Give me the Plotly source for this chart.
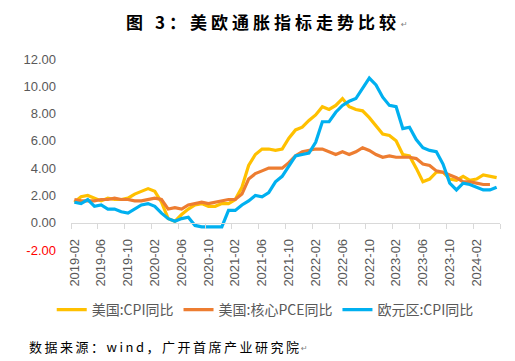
import plotly.graph_objects as go

months = []
for yr in range(2019, 2025):
    for m in range(1, 13):
        s = f"{yr}-{m:02d}"
        if "2019-02" <= s <= "2024-05":
            months.append(s)

us_cpi = [1.5, 1.9, 2.0, 1.8, 1.6, 1.8, 1.7, 1.7, 1.8, 2.1, 2.3,
          2.5, 2.3, 1.5, 0.3, 0.1, 0.6, 1.0, 1.3, 1.4, 1.2, 1.2, 1.4,
          1.4, 1.7, 2.6, 4.2, 5.0, 5.4, 5.4, 5.3, 5.4, 6.2, 6.8, 7.0,
          7.5, 7.9, 8.5, 8.3, 8.6, 9.1, 8.5, 8.3, 8.2, 7.7, 7.1, 6.5,
          6.4, 6.0, 5.0, 4.9, 4.0, 3.0, 3.2, 3.7, 3.7, 3.2, 3.1, 3.4,
          3.1, 3.2, 3.5, 3.4, 3.3]
us_core_pce = [1.7, 1.6, 1.6, 1.6, 1.7, 1.7, 1.8, 1.7, 1.7, 1.6, 1.6,
               1.7, 1.8, 1.7, 1.0, 1.1, 1.0, 1.3, 1.4, 1.5, 1.4, 1.5, 1.6,
               1.7, 1.7, 2.1, 3.2, 3.6, 3.8, 4.0, 4.0, 4.0, 4.4, 4.9, 5.2,
               5.3, 5.4, 5.4, 5.2, 5.0, 5.2, 5.0, 5.2, 5.5, 5.3, 5.0, 4.8,
               4.9, 4.8, 4.8, 4.8, 4.7, 4.3, 4.2, 3.8, 3.7, 3.5, 3.3, 3.0,
               3.0, 2.9, 2.8, 2.8]
ez_cpi = [1.5, 1.4, 1.7, 1.2, 1.3, 1.0, 1.0, 0.8, 0.7, 1.0, 1.3,
          1.4, 1.2, 0.7, 0.3, 0.1, 0.3, 0.4, -0.2, -0.3, -0.3, -0.3, -0.3,
          0.9, 0.9, 1.3, 1.6, 2.0, 1.9, 2.2, 3.0, 3.4, 4.1, 4.9, 5.0,
          5.1, 5.9, 7.4, 7.4, 8.1, 8.6, 8.9, 9.1, 9.9, 10.6, 10.1, 9.2,
          8.6, 8.5, 6.9, 7.0, 6.1, 5.5, 5.3, 5.2, 4.3, 2.9, 2.4, 2.9,
          2.8, 2.6, 2.4, 2.4, 2.6]

series_names = ["美国:CPI同比", "美国:核心PCE同比", "欧元区:CPI同比"]
series_colors = ["#FFC000", "#ED7D31", "#00B0F0"]
y_ticks = [-2, 0, 2, 4, 6, 8, 10, 12]

y_ticktext = [
    f'<span style="color:#FF0000">{v:.2f}</span>' if v < 0 else f"{v:.2f}"
    for v in y_ticks
]

fig = go.Figure()
for name, vals, col in zip(series_names, [us_cpi, us_core_pce, ez_cpi], series_colors):
    fig.add_trace(go.Scatter(
        x=months[:len(vals)], y=vals, name=name, mode="lines",
        line=dict(color=col, width=3.2),
    ))

# plot area: left 71, right 500, top 59, bottom 250
L, R, T, B = 71, 15, 59, 111
W, H = 515, 361
ph = H - T - B

fig.update_layout(
    width=W, height=H,
    margin=dict(l=L, r=R, t=T, b=B, autoexpand=False),
    paper_bgcolor="white", plot_bgcolor="white",
    font=dict(family="Liberation Sans, Arial, sans-serif", color="#595959", size=13),
    showlegend=True,
    legend=dict(
        orientation="h", xref="container", yref="container",
        x=0.515, xanchor="center", y=1 - 310 / H, yanchor="middle",
        font=dict(family="Noto Sans CJK SC, Liberation Sans, sans-serif", size=14, color="#595959"),
        itemwidth=30, tracegroupgap=0,
    ),
    title=dict(
        text='<b><span style="letter-spacing:4px">图 3：美欧通胀指标走势比较</span></b>',
        xref="container", yref="container",
        x=263 / W, xanchor="center", y=1 - 23 / H, yanchor="middle",
        font=dict(family="Noto Sans CJK SC, sans-serif", size=17, color="#000000"),
    ),
)

fig.update_xaxes(
    type="category",
    categoryorder="array", categoryarray=months,
    range=[-0.5, len(months) - 0.5],
    tick0=0, dtick=4,
    tickson="boundaries",
    ticks="outside", ticklen=5, tickcolor="#D9D9D9", tickwidth=1,
    tickangle=-90,
    tickfont=dict(size=13, color="#595959"),
    showline=True, linecolor="#D9D9D9", linewidth=1,
    showgrid=False, zeroline=False,
    anchor="free", position=2 / 14,
    ticklabelstandoff=10,
    automargin=False,
)
fig.update_yaxes(
    range=[-2, 12],
    tickvals=y_ticks, ticktext=y_ticktext,
    showgrid=False, zeroline=False, showline=False,
    ticks="", ticklabelstandoff=14,
    tickfont=dict(size=13, color="#595959"),
    automargin=False,
)

def py(p):
    return (H - B - p) / ph

def px(p):
    return (p - L) / (W - L - R)

fig.add_annotation(
    text='<span style="letter-spacing:2.5px">数据来源：wind，广开首席产业研究院</span>',
    xref="paper", yref="paper", x=px(27), y=py(346),
    xanchor="left", yanchor="middle", showarrow=False,
    font=dict(family="Noto Sans CJK SC, sans-serif", size=13, color="#000000"),
)
fig.add_annotation(
    text="↵", xref="paper", yref="paper", x=px(404), y=py(25),
    xanchor="center", yanchor="middle", showarrow=False,
    font=dict(family="DejaVu Sans, sans-serif", size=8, color="#808080"),
)
fig.add_annotation(
    text="↵", xref="paper", yref="paper", x=px(304), y=py(348),
    xanchor="center", yanchor="middle", showarrow=False,
    font=dict(family="DejaVu Sans, sans-serif", size=8, color="#808080"),
)

fig.write_html(
    "out.html",
    config={"displayModeBar": False},
    post_script="document.body.style.margin='0';document.body.style.padding='0';",
)
